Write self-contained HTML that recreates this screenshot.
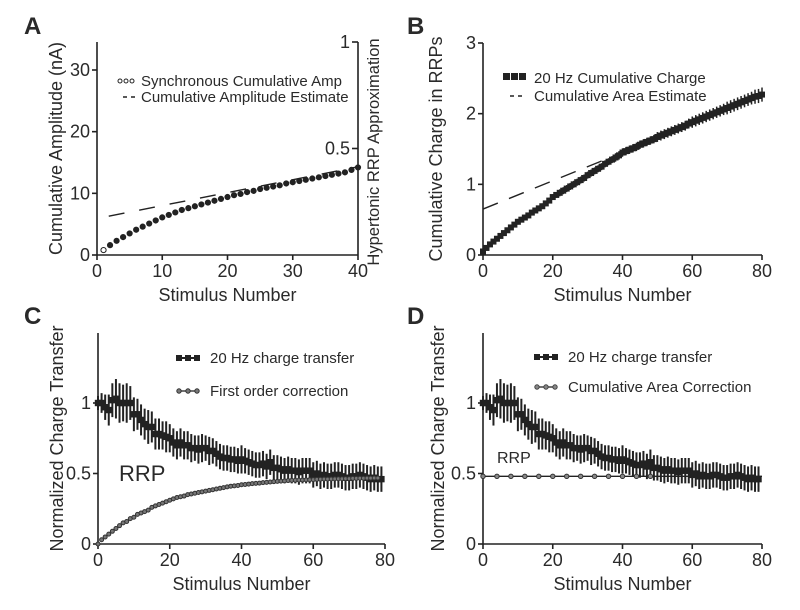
<!DOCTYPE html>
<html><head><meta charset="utf-8"><style>
html,body{margin:0;padding:0;background:#fff;}
svg{display:block;font-family:"Liberation Sans",Arial,sans-serif;}
text{fill:#2a2a2a;}
</style></head><body>
<svg id="fig" width="800" height="610" viewBox="0 0 800 610"></svg>
<script>
const ampX=[1,2,3,4,5,6,7,8,9,10,11,12,13,14,15,16,17,18,19,20,21,22,23,24,25,26,27,28,29,30,31,32,33,34,35,36,37,38,39,40];
const ampY=[0.8,1.6,2.3,2.9,3.5,4.1,4.6,5.1,5.6,6.1,6.5,6.9,7.3,7.6,7.9,8.2,8.5,8.8,9.1,9.4,9.7,9.9,10.2,10.4,10.7,10.9,11.1,11.3,11.6,11.8,12.0,12.2,12.4,12.6,12.8,13.0,13.2,13.4,13.8,14.2];
const ampEstX=[1.8,40];
const ampEstY=[6.3,14.3];
const cumY=[0.05,0.1,0.15,0.19,0.23,0.27,0.31,0.35,0.39,0.43,0.47,0.5,0.53,0.56,0.6,0.63,0.66,0.69,0.73,0.77,0.82,0.85,0.88,0.91,0.94,0.97,1.0,1.03,1.06,1.09,1.13,1.16,1.19,1.22,1.25,1.29,1.32,1.35,1.38,1.41,1.45,1.47,1.49,1.51,1.53,1.56,1.58,1.6,1.62,1.64,1.67,1.69,1.71,1.73,1.75,1.77,1.79,1.81,1.83,1.86,1.88,1.9,1.92,1.94,1.96,1.98,2.0,2.02,2.04,2.06,2.08,2.1,2.12,2.14,2.16,2.18,2.2,2.22,2.24,2.25,2.27];
const cumErr=[0.02,0.02,0.02,0.03,0.03,0.03,0.03,0.03,0.03,0.03,0.04,0.04,0.04,0.04,0.04,0.04,0.04,0.04,0.04,0.04,0.04,0.04,0.05,0.05,0.05,0.05,0.05,0.05,0.05,0.05,0.05,0.05,0.05,0.05,0.05,0.05,0.05,0.05,0.06,0.06,0.06,0.06,0.06,0.06,0.06,0.06,0.06,0.06,0.06,0.06,0.07,0.07,0.07,0.07,0.07,0.07,0.07,0.07,0.07,0.07,0.08,0.08,0.08,0.08,0.08,0.08,0.08,0.08,0.08,0.08,0.09,0.09,0.09,0.09,0.09,0.09,0.09,0.09,0.1,0.1,0.1];
const areaEstX=[0,40];
const areaEstY=[0.65,1.45];
const ctY=[1.0,1.0,0.97,0.95,1.02,1.03,1.0,1.0,1.0,1.0,0.92,0.92,0.88,0.85,0.83,0.83,0.78,0.78,0.77,0.76,0.75,0.72,0.70,0.72,0.70,0.70,0.68,0.68,0.67,0.68,0.68,0.66,0.66,0.64,0.62,0.61,0.61,0.60,0.60,0.59,0.60,0.59,0.58,0.57,0.56,0.56,0.57,0.55,0.58,0.54,0.54,0.53,0.52,0.53,0.52,0.52,0.51,0.52,0.52,0.52,0.49,0.50,0.48,0.49,0.48,0.48,0.49,0.49,0.48,0.47,0.47,0.48,0.48,0.49,0.48,0.47,0.46,0.47,0.46,0.46];
const ctErr=[0.05,0.07,0.09,0.11,0.12,0.14,0.14,0.13,0.14,0.12,0.12,0.11,0.11,0.11,0.12,0.11,0.11,0.11,0.1,0.11,0.1,0.1,0.1,0.1,0.1,0.1,0.1,0.09,0.1,0.1,0.09,0.1,0.09,0.09,0.09,0.09,0.09,0.09,0.09,0.09,0.1,0.09,0.09,0.09,0.09,0.09,0.09,0.09,0.09,0.09,0.09,0.09,0.09,0.09,0.09,0.09,0.09,0.09,0.09,0.09,0.09,0.09,0.09,0.09,0.09,0.09,0.09,0.09,0.09,0.09,0.09,0.09,0.09,0.09,0.09,0.09,0.09,0.09,0.09,0.09];
const focY=[0,0.03,0.05,0.07,0.09,0.11,0.13,0.15,0.16,0.18,0.19,0.21,0.22,0.23,0.24,0.26,0.27,0.28,0.29,0.30,0.31,0.32,0.33,0.335,0.34,0.35,0.355,0.36,0.365,0.37,0.375,0.38,0.385,0.39,0.395,0.40,0.405,0.41,0.412,0.415,0.42,0.422,0.425,0.428,0.43,0.432,0.435,0.437,0.44,0.442,0.444,0.446,0.448,0.45,0.451,0.452,0.453,0.454,0.455,0.456,0.457,0.458,0.459,0.46,0.46,0.461,0.462,0.463,0.463,0.464,0.464,0.465,0.465,0.466,0.466,0.467,0.467,0.468,0.468];
const cacX=[0,4,8,12,16,20,24,28,32,36,40,44,48];
const cacY=[0.48,0.48,0.48,0.48,0.48,0.48,0.48,0.48,0.48,0.48,0.48,0.48,0.48];
const ticksA=[0,10,20,30], ticksAx=[0,10,20,30,40], ticksAr=[0.5,1];
const ticksB=[0,1,2,3], ticksBx=[0,20,40,60,80];
const ticksC=[0,0.5,1], ticksCx=[0,20,40,60,80];

const svg=document.getElementById('fig');
const NS='http://www.w3.org/2000/svg';
function el(tag,attrs,parent){const e=document.createElementNS(NS,tag);for(const k in attrs)e.setAttribute(k,attrs[k]);(parent||svg).appendChild(e);return e;}
function txt(s,attrs,parent){const t=el('text',attrs,parent);t.textContent=s;return t;}
function scale(d0,d1,r0,r1){return v=>r0+(v-d0)/(d1-d0)*(r1-r0);}

function panel(o){
  const g=el('g',{});
  
  
  const X=scale(o.xd[0],o.xd[1],o.x0,o.x1), Y=scale(o.yd[0],o.yd[1],o.y0,o.y1);
  const ax=el('g',{stroke:'#222','stroke-width':1.6,fill:'none'},g);
  
  
  el('line',{x1:o.x0,y1:o.top,x2:o.x0,y2:o.y0},ax);
  el('line',{x1:o.x0,y1:o.y0,x2:o.x1,y2:o.y0},ax);
  o.yt.forEach(v=>{el('line',{x1:o.x0-5,y1:Y(v),x2:o.x0,y2:Y(v)},ax);
    const t=txt(String(v),{x:o.x0-7,y:Y(v)+6,'font-size':18,'text-anchor':'end'},g);
    });
  o.xt.forEach(v=>{el('line',{x1:X(v),y1:o.y0,x2:X(v),y2:o.y0+5},ax);
    const t=txt(String(v),{x:X(v),y:o.y0+22,'font-size':18,'text-anchor':'middle'},g);
    });
  const xt=txt('Stimulus Number',{x:(o.x0+o.x1)/2,y:o.y0+46,'font-size':18,'text-anchor':'middle'},g);
  
  const yt=txt(o.ytitle,{x:0,y:0,'font-size':18,'text-anchor':'middle',transform:`translate(${o.ytx},${(o.top+o.y0)/2}) rotate(-90)`},g);
  
  const L=txt(o.letter,{x:o.lx,y:o.ly,'font-size':24,'font-weight':'bold',fill:'#111'},g);
  
  return {g,X,Y};
}

// Panel A
(function(){
  const p=panel({name:'panel-a',letter:'A',lx:24,ly:34,x0:97,x1:358,xd:[0,40],y0:255,y1:70,yd:[0,30],top:42,yt:ticksA,xt:ticksAx,ytitle:'Cumulative Amplitude (nA)',ytx:62});
  const R=scale(0,1,255,42);
  const ax=el('g',{stroke:'#222','stroke-width':1.6},p.g);
  
  el('line',{x1:358,y1:42,x2:358,y2:255},ax);
  ticksAr.forEach(v=>{el('line',{x1:352,y1:R(v),x2:358,y2:R(v)},ax);
    const t=txt(String(v),{x:350,y:R(v)+6,'font-size':18,'text-anchor':'end'},p.g);
    });
  const rt=txt('Hypertonic RRP Approximation',{x:0,y:0,'font-size':16.5,'text-anchor':'middle',transform:'translate(379,152) rotate(-90)'},p.g);
  
  const d=el('line',{x1:p.X(ampEstX[0]),y1:p.Y(ampEstY[0]),x2:p.X(ampEstX[1]),y2:p.Y(ampEstY[1]),stroke:'#222','stroke-width':1.4,'stroke-dasharray':'16,15'},p.g);
  
  ampX.forEach((x,i)=>{const c=el('circle',{cx:p.X(x),cy:p.Y(ampY[i]),r:2.6,fill:i<1?'#fff':'#222',stroke:'#222','stroke-width':1},p.g);
    });
  const lg=el('g',{},p.g);
  [120,126,132].forEach(x=>el('circle',{cx:x,cy:81,r:2,fill:'#fff',stroke:'#222','stroke-width':1},lg));
  txt('Synchronous Cumulative Amp',{x:141,y:86,'font-size':15},lg);
  el('line',{x1:123,y1:97,x2:137,y2:97,stroke:'#222','stroke-width':1.5,'stroke-dasharray':'4,4'},lg);
  txt('Cumulative Amplitude Estimate',{x:141,y:102,'font-size':15},lg);
})();

// Panel B
(function(){
  const p=panel({name:'panel-b',letter:'B',lx:407,ly:34,x0:483,x1:762,xd:[0,80],y0:255,y1:43,yd:[0,3],top:43,yt:ticksB,xt:ticksBx,ytitle:'Cumulative Charge in RRPs',ytx:442});
  const d=el('line',{x1:p.X(areaEstX[0]),y1:p.Y(areaEstY[0]),x2:p.X(areaEstX[1]),y2:p.Y(areaEstY[1]),stroke:'#222','stroke-width':1.4,'stroke-dasharray':'16,12'},p.g);
  
  cumY.forEach((v,i)=>{
    const e=el('line',{x1:p.X(i),x2:p.X(i),y1:p.Y(v-cumErr[i]),y2:p.Y(v+cumErr[i]),stroke:'#222','stroke-width':1.5},p.g);
    
    const r=el('rect',{x:p.X(i)-3,y:p.Y(v)-3,width:6,height:6,fill:'#222'},p.g);
    });
  const lg=el('g',{},p.g);
  [503,511,519].forEach(x=>el('rect',{x:x,y:73,width:7,height:7,fill:'#222'},lg));
  txt('20 Hz Cumulative Charge',{x:534,y:83,'font-size':15},lg);
  el('line',{x1:510,y1:96,x2:524,y2:96,stroke:'#222','stroke-width':1.5,'stroke-dasharray':'4,4'},lg);
  txt('Cumulative Area Estimate',{x:534,y:101,'font-size':15},lg);
})();

function chargeSeries(p){
  ctY.forEach((v,i)=>{
    const e=el('line',{x1:p.X(i),x2:p.X(i),y1:p.Y(v-ctErr[i]),y2:p.Y(v+ctErr[i]),stroke:'#222','stroke-width':2},p.g);
    
    const r=el('rect',{x:p.X(i)-3.2,y:p.Y(v)-3.2,width:6.4,height:6.4,fill:'#222'},p.g);
    });
}

// Panel C
(function(){
  const p=panel({name:'panel-c',letter:'C',lx:24,ly:324,x0:98,x1:385,xd:[0,80],y0:544,y1:403,yd:[0,1],top:333,yt:ticksC,xt:ticksCx,ytitle:'Normalized Charge Transfer',ytx:63});
  chargeSeries(p);
  focY.forEach((v,i)=>{const c=el('circle',{cx:p.X(i),cy:p.Y(v),r:2,fill:'#777',stroke:'#333','stroke-width':1},p.g);
    });
  const rr=txt('RRP',{x:119,y:481,'font-size':22},p.g);
  const lg=el('g',{},p.g);
  el('line',{x1:177,y1:358,x2:199,y2:358,stroke:'#222','stroke-width':2},lg);
  [179,188,197].forEach(x=>el('rect',{x:x-3,y:355,width:6,height:6,fill:'#222'},lg));
  txt('20 Hz charge transfer',{x:210,y:363,'font-size':15},lg);
  el('line',{x1:177,y1:391,x2:199,y2:391,stroke:'#444','stroke-width':1.5},lg);
  [179,188,197].forEach(x=>el('circle',{cx:x,cy:391,r:2.2,fill:'#777',stroke:'#333','stroke-width':1},lg));
  txt('First order correction',{x:210,y:396,'font-size':15},lg);
})();

// Panel D
(function(){
  const p=panel({name:'panel-d',letter:'D',lx:407,ly:324,x0:483,x1:762,xd:[0,80],y0:544,y1:403,yd:[0,1],top:333,yt:ticksC,xt:ticksCx,ytitle:'Normalized Charge Transfer',ytx:444});
  const cl=el('line',{x1:p.X(0),y1:p.Y(cacY[0]),x2:p.X(80),y2:p.Y(cacY[0]),stroke:'#222','stroke-width':1.3},p.g);
  
  chargeSeries(p);
  cacX.forEach((x,i)=>{const c=el('circle',{cx:p.X(x),cy:p.Y(cacY[i]),r:2.2,fill:'#888',stroke:'#333','stroke-width':1},p.g);
    });
  const rr=txt('RRP',{x:497,y:463,'font-size':16},p.g);
  const lg=el('g',{},p.g);
  el('line',{x1:535,y1:357,x2:557,y2:357,stroke:'#222','stroke-width':2},lg);
  [537,546,555].forEach(x=>el('rect',{x:x-3,y:354,width:6,height:6,fill:'#222'},lg));
  txt('20 Hz charge transfer',{x:568,y:362,'font-size':15},lg);
  el('line',{x1:535,y1:387,x2:557,y2:387,stroke:'#444','stroke-width':1.5},lg);
  [537,546,555].forEach(x=>el('circle',{cx:x,cy:387,r:2.2,fill:'#888',stroke:'#444','stroke-width':1},lg));
  txt('Cumulative Area Correction',{x:568,y:392,'font-size':15},lg);
})();
</script>
</body></html>
